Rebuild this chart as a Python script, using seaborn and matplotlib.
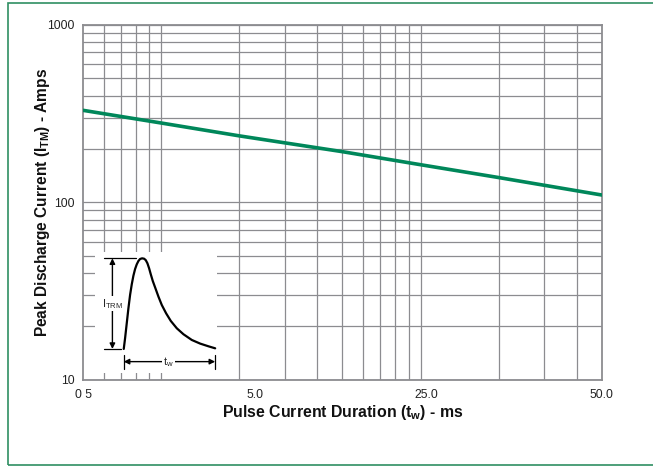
import numpy as np
import pandas as pd
import seaborn as sns
import matplotlib.pyplot as plt
from matplotlib.ticker import LogLocator, NullFormatter, FixedLocator, FixedFormatter
from matplotlib.patches import Rectangle

# Data
t_ms = [0.5, 1, 2, 5, 10, 20, 50]
i_amps = [330, 280, 237, 193, 163, 138, 110]

x_tick_vals = [0.5, 2.29, 10.55, 50.0]
x_tick_labels = ["0 5", "5.0", "25.0", "50.0"]
y_tick_vals = [10, 100, 1000]
y_tick_labels = ["10", "100", "1000"]

# Inset pulse shape (arbitrary units)
pulse_t = [0.0, 0.146, 0.328, 0.511, 0.693, 0.876, 1.058, 1.241, 1.423, 1.606,
           1.788, 2.007, 2.226, 2.409, 2.591, 2.774, 2.956, 3.175, 3.467, 3.796,
           4.161, 4.635, 5.146, 5.803, 6.533, 7.445, 8.358, 9.270, 10.0]
pulse_i = [0.0, 0.118, 0.283, 0.449, 0.596, 0.713, 0.809, 0.882, 0.934, 0.971,
           0.993, 1.0, 0.996, 0.98, 0.945, 0.89, 0.824, 0.75, 0.669, 0.577,
           0.485, 0.393, 0.309, 0.228, 0.162, 0.099, 0.059, 0.029, 0.007]

GREEN = "#00875a"
GRID = "#8c8c90"
FRAME = "#2f8f62"

sns.set_style("white")
plt.rcParams['font.family'] = ['Liberation Sans', 'DejaVu Sans']
plt.rcParams['mathtext.fontset'] = 'custom'
plt.rcParams['mathtext.rm'] = 'Liberation Sans'
plt.rcParams['mathtext.bf'] = 'Liberation Sans:bold'
plt.rcParams['mathtext.it'] = 'Liberation Sans:italic'

df = pd.DataFrame({"t": t_ms, "i": i_amps})
pulse = pd.DataFrame({"t": pulse_t, "i": pulse_i})

fig = plt.figure(figsize=(6.53, 4.66), dpi=100)
ax = fig.add_axes([0.1276, 0.1852, 0.7938, 0.7612])
ax.set_xscale('log')
ax.set_yscale('log')
sns.lineplot(data=df, x="t", y="i", ax=ax, color=GREEN, linewidth=2.6, zorder=3)
ax.set_xlim(0.5, 50)
ax.set_ylim(10, 1000)

# ticks and grid
ax.xaxis.set_major_locator(FixedLocator(x_tick_vals))
ax.xaxis.set_major_formatter(FixedFormatter(x_tick_labels))
ax.xaxis.set_minor_locator(LogLocator(base=10, subs=np.arange(1, 10), numticks=20))
ax.xaxis.set_minor_formatter(NullFormatter())
ax.yaxis.set_major_locator(FixedLocator(y_tick_vals))
ax.yaxis.set_major_formatter(FixedFormatter(y_tick_labels))
ax.yaxis.set_minor_locator(LogLocator(base=10, subs=np.arange(2, 10), numticks=20))
ax.yaxis.set_minor_formatter(NullFormatter())

ax.grid(which='major', axis='y', color=GRID, linewidth=0.9)
ax.grid(which='minor', axis='both', color=GRID, linewidth=0.9)
ax.tick_params(which='minor', length=0)
ax.tick_params(which='major', length=4, width=1, color=GRID, labelsize=8.8,
               labelcolor='#222222')
ax.tick_params(axis='x', which='major', pad=3)
ax.tick_params(axis='y', which='major', pad=2)
ax.xaxis.get_major_ticks()[1].tick1line.set_visible(False)
for s in ax.spines.values():
    s.set_color(GRID)
    s.set_linewidth(1.3)

ax.set_xlabel(r"Pulse Current Duration (t$_{\mathbf{w}}$) - ms", fontsize=11.4,
              fontweight='bold', color='#111111')
ax.set_ylabel(r"Peak Discharge Current (I$_{\mathbf{TM}}$) - Amps", fontsize=11.2,
              fontweight='bold', color='#111111')
ax.xaxis.set_label_coords(0.5, -0.066)
ax.yaxis.set_label_coords(-0.06, 0.5)

# inset pulse sketch
ins = ax.inset_axes([0.0226, 0.019, 0.2353, 0.341])
ins.set_facecolor('white')
ins.set_zorder(4)
sns.lineplot(data=pulse, x='t', y='i', ax=ins, color='black', linewidth=1.6, sort=False)
ins.set_xlim(-3.14, 10.2)
ins.set_ylim(-0.265, 1.07)
ins.set_xticks([])
ins.set_yticks([])
ins.set_xlabel('')
ins.set_ylabel('')
for s in ins.spines.values():
    s.set_visible(False)

t0, t1 = pulse_t[0], pulse_t[-1]
peak = max(pulse_i)
xa = t0 - 1.24
ins.plot([t0 - 2.2, 1.3], [peak, peak], color='black', linewidth=0.9)
ins.plot([t0 - 2.2, t0 - 0.35], [0, 0], color='black', linewidth=0.9)
ins.annotate('', xy=(xa, peak), xytext=(xa, 0),
             arrowprops=dict(arrowstyle='<|-|>', color='black', lw=1.0,
                             mutation_scale=8, shrinkA=0, shrinkB=0))
ins.text(xa, 0.5, r'I$_{\mathrm{TRM}}$', ha='center', va='center', fontsize=8,
         bbox=dict(fc='white', ec='none', pad=0.5))
ya = -0.14
ins.plot([t0, t0], [-0.07, -0.22], color='black', linewidth=0.9)
ins.plot([t1, t1], [-0.07, -0.22], color='black', linewidth=0.9)
ins.annotate('', xy=(t1, ya), xytext=(t0, ya),
             arrowprops=dict(arrowstyle='<|-|>', color='black', lw=1.0,
                             mutation_scale=8, shrinkA=0, shrinkB=0))
ins.text(4.9, ya, r't$_{\mathrm{w}}$', ha='center', va='center', fontsize=8,
         bbox=dict(fc='white', ec='none', pad=0.8))

# green frame around the figure
fig.add_artist(Rectangle((0.0123, 0.0032), 1.0, 0.9904, transform=fig.transFigure,
                         fill=False, edgecolor=FRAME, linewidth=1.2))

fig.savefig("out.png", dpi=100)
